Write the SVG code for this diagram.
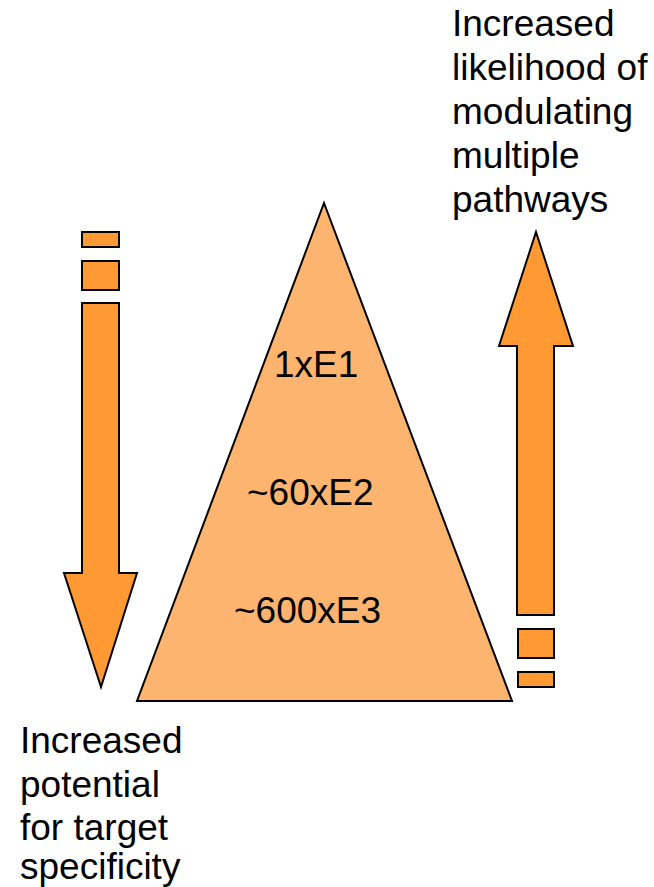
<svg xmlns="http://www.w3.org/2000/svg" width="654" height="887" viewBox="0 0 654 887">
<style>
.arr{fill:#ff9933;stroke:#000;stroke-width:2;stroke-linejoin:miter}
.tri{fill:#fdb46e;stroke:#000;stroke-width:2}
text{font-family:"Liberation Sans",Arial,sans-serif;font-size:37px;fill:#000}
</style>
<rect width="654" height="887" fill="#fff"/>
<g id="pyramid">
<polygon class="tri" points="324,203 512,701 137,701"/>
<text x="274" y="377">1xE1</text>
<text x="247" y="505">~60xE2</text>
<text x="234" y="623">~600xE3</text>
</g>
<g id="left-arrow">
<rect class="arr" x="82" y="232" width="37" height="15"/>
<rect class="arr" x="82" y="261" width="37" height="29"/>
<polygon class="arr" points="82,303 119,303 119,573 137,573 101,687 64,573 82,573"/>
</g>
<g id="right-arrow">
<polygon class="arr" points="536,232 573,346 554,346 554,615 517,615 517,346 499,346"/>
<rect class="arr" x="518" y="629" width="36" height="29"/>
<rect class="arr" x="518" y="672" width="36" height="15"/>
</g>
<g id="left-label">
<text x="20" y="753">Increased</text>
<text x="20" y="797">potential</text>
<text x="20" y="840">for target</text>
<text x="20" y="879">specificity</text>
</g>
<g id="right-label">
<text x="452" y="36">Increased</text>
<text x="452" y="80">likelihood of</text>
<text x="452" y="124">modulating</text>
<text x="452" y="168">multiple</text>
<text x="452" y="212">pathways</text>
</g>
</svg>
